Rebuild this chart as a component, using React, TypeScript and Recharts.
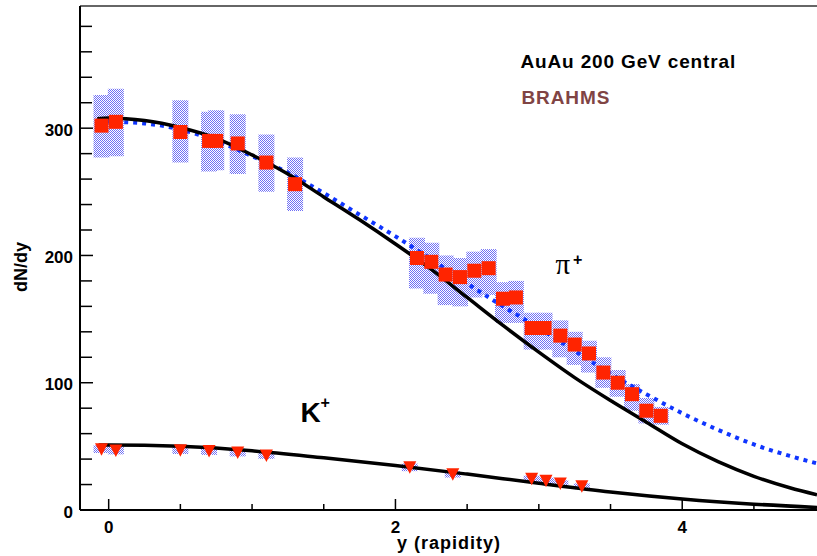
import React from 'react';
import { ComposedChart, Line, Scatter, XAxis, YAxis, ErrorBar, ReferenceLine } from 'recharts';

// ---- pi+ data (BRAHMS) ----
const piRapidity = [-0.05, 0.05, 0.5, 0.7, 0.75, 0.9, 1.1, 1.3, 2.15, 2.25, 2.35, 2.45, 2.55, 2.65, 2.75, 2.84, 2.95, 3.04, 3.15, 3.25, 3.35, 3.45, 3.55, 3.65, 3.75, 3.85];
const piYield = [302, 305, 297, 290, 290, 288, 273, 256, 198, 195, 185, 183, 188, 190, 166, 167, 143, 143, 137, 130, 123, 108, 100, 91, 78, 74];
const piSysLow = [277, 278, 273, 266, 267, 264, 250, 235, 174, 170, 161, 160, 167, 169, 147, 147, 126, 126, 120, 114, 108, 96, 89, 78, 68, 67];
const piSysHigh = [326, 331, 322, 313, 314, 311, 295, 277, 214, 210, 200, 198, 203, 205, 179, 180, 155, 155, 149, 140, 133, 120, 110, 99, 88, 81];

// ---- K+ data ----
const kRapidity = [-0.05, 0.05, 0.5, 0.7, 0.9, 1.1, 2.1, 2.4, 2.95, 3.05, 3.15, 3.3];
const kYield = [47.8, 46.7, 47, 46.3, 45.1, 42.9, 33.5, 28, 24.5, 22.9, 20.8, 18.6];
const kSysLow = [44.8, 43.7, 44, 43.3, 42.1, 40.2, 30.5, 25.5, 22, 20.4, 18.3, 16.3];
const kSysHigh = [50.8, 49.7, 50, 49.3, 48.1, 45.6, 36.5, 30.5, 27, 25.4, 23.3, 20.9];

// ---- model curves ----
const piFitX = [-0.08, 0, 0.25, 0.5, 0.75, 1.0, 1.25, 1.5, 1.75, 2.0, 2.25, 2.5, 2.75, 3.0, 3.25, 3.5, 3.75, 4.0, 4.25, 4.5, 4.75, 4.94];
const piFitSolid = [307.5, 308, 306, 300.5, 292, 279, 264, 246, 228, 209, 189, 167, 145, 124, 104, 86, 69, 52, 38, 26.5, 17.5, 12];
const piFitDotted = [305, 305, 303.7, 299, 290, 278, 265, 249, 232, 215, 197, 178, 160, 143, 125, 107, 91, 76, 63, 51.5, 42.5, 36.6];
const kFitX = [-0.07, 0, 0.5, 1.0, 1.5, 2.0, 2.5, 3.0, 3.5, 4.0, 4.5, 4.94];
const kFitSolid = [51, 51, 50, 46.5, 41, 35, 28.2, 21, 14.2, 8.7, 4.6, 2];

// ---- axes ----
const xDomain = [-0.2, 4.94];
const yDomain = [0, 396];
const xTicks = [0, 0.5, 1, 1.5, 2, 2.5, 3, 3.5, 4, 4.5];
const xLabeled = [0, 2, 4];
const yTicks = [0, 20, 40, 60, 80, 100, 120, 140, 160, 180, 200, 220, 240, 260, 280, 300, 320, 340, 360, 380];
const yLabeled = [0, 100, 200, 300];

const FONT = '"Liberation Sans", Arial, Helvetica, sans-serif';
const RED = '#ff2400';

const piData = piRapidity.map((x, i) => ({ x, y: piYield[i], err: [piYield[i] - piSysLow[i], piSysHigh[i] - piYield[i]] }));
const kData = kRapidity.map((x, i) => ({ x, y: kYield[i], err: [kYield[i] - kSysLow[i], kSysHigh[i] - kYield[i]] }));
const piSolid = piFitX.map((x, i) => ({ x, y: piFitSolid[i] }));
const piDotted = piFitX.map((x, i) => ({ x, y: piFitDotted[i] }));
const kSolid = kFitX.map((x, i) => ({ x, y: kFitSolid[i] }));

const SquareShape = (p: any) => <rect x={p.cx - 7} y={p.cy - 7} width={14} height={14} fill={RED} />;
const TriShape = (p: any) => (
  <polygon points={`${p.cx - 6.5},${p.cy - 6} ${p.cx + 6.5},${p.cy - 6} ${p.cx},${p.cy + 6.5}`} fill={RED} />
);

const YTick = (p: any) => {
  const v = p.payload.value;
  const major = yLabeled.includes(v);
  return (
    <g>
      <line x1={p.x} x2={p.x + (major ? 13 : 12)} y1={p.y} y2={p.y} stroke="#000" strokeWidth={1.5} />
      {major && (
        <text x={p.x - 7} y={p.y + 7.5} textAnchor="end" fontFamily={FONT} fontWeight="bold" fontSize={17} fill="#000">
          {v}
        </text>
      )}
    </g>
  );
};

const XTick = (p: any) => {
  const v = p.payload.value;
  const major = xLabeled.includes(v);
  return (
    <g>
      <line x1={p.x} x2={p.x} y1={p.y} y2={p.y - (major ? 11 : 6)} stroke="#000" strokeWidth={1.5} />
      {major && (
        <text x={p.x} y={p.y + 23} textAnchor="middle" fontFamily={FONT} fontWeight="bold" fontSize={17} fill="#000">
          {v}
        </text>
      )}
    </g>
  );
};

export default function App() {
  return (
    <div style={{ position: 'absolute', left: 0, top: 0, width: 817, height: 556, background: '#fff' }}>
      <svg width={0} height={0} style={{ position: 'absolute' }}>
        <defs>
          <pattern id="sysHatch" patternUnits="userSpaceOnUse" width={2} height={2}>
            <rect x={0} y={0} width={1} height={1} fill="#6f6ff5" />
            <rect x={1} y={1} width={1} height={1} fill="#6f6ff5" />
          </pattern>
        </defs>
      </svg>
      <ComposedChart width={817} height={556} margin={{ top: 6, right: 0, bottom: 0, left: 0 }}>
        <XAxis
          type="number"
          dataKey="x"
          domain={xDomain}
          ticks={xTicks}
          interval={0}
          allowDataOverflow
          height={46}
          tickSize={0}
          tickMargin={0}
          tickLine={false}
          tick={XTick}
          axisLine={{ stroke: '#000', strokeWidth: 2 }}
        />
        <YAxis
          type="number"
          dataKey="y"
          domain={yDomain}
          ticks={yTicks}
          interval={0}
          allowDataOverflow
          width={80}
          tickSize={0}
          tickMargin={0}
          tickLine={false}
          tick={YTick}
          axisLine={{ stroke: '#000', strokeWidth: 2 }}
        />
        <ReferenceLine y={yDomain[1]} stroke="#333" strokeWidth={1.3} />
        <Scatter data={piData} dataKey="y" shape={SquareShape} isAnimationActive={false}>
          <ErrorBar dataKey="err" direction="y" width={0} strokeWidth={16} stroke="url(#sysHatch)" isAnimationActive={false} />
        </Scatter>
        <Scatter data={kData} dataKey="y" shape={TriShape} isAnimationActive={false}>
          <ErrorBar dataKey="err" direction="y" width={0} strokeWidth={16} stroke="url(#sysHatch)" isAnimationActive={false} />
        </Scatter>
        <Line data={piDotted} dataKey="y" type="monotone" stroke="#0f35ff" strokeWidth={4} strokeDasharray="4 5" dot={false} activeDot={false} isAnimationActive={false} />
        <Line data={piSolid} dataKey="y" type="monotone" stroke="#000" strokeWidth={3.5} dot={false} activeDot={false} isAnimationActive={false} />
        <Line data={kSolid} dataKey="y" type="monotone" stroke="#000" strokeWidth={3.5} dot={false} activeDot={false} isAnimationActive={false} />
      </ComposedChart>
      <svg width={817} height={556} style={{ position: 'absolute', left: 0, top: 0, pointerEvents: 'none' }}>
        <text x={520.5} y={68} fontFamily={FONT} fontWeight="bold" fontSize={19} letterSpacing={0.85} fill="#000">AuAu 200 GeV central</text>
        <text x={521.5} y={104} fontFamily={FONT} fontWeight="bold" fontSize={19} letterSpacing={0.9} fill="#804444">BRAHMS</text>
        <text x={555.5} y={273.5} fontFamily='"Liberation Serif", "Times New Roman", serif' fontSize={29} fill="#000">π</text>
        <text x={573} y={264.5} fontFamily={FONT} fontWeight="bold" fontSize={16} fill="#000">+</text>
        <text x={300.5} y={421.5} fontFamily={FONT} fontWeight="bold" fontSize={28} fill="#000">K</text>
        <text x={320.5} y={408} fontFamily={FONT} fontWeight="bold" fontSize={16} fill="#000">+</text>
        <text x={449} y={549} textAnchor="middle" fontFamily={FONT} fontWeight="bold" fontSize={18} letterSpacing={1} fill="#000">y (rapidity)</text>
        <text x={27} y={267} textAnchor="middle" transform="rotate(-90, 27, 267)" fontFamily={FONT} fontWeight="bold" fontSize={18} fill="#000">dN/dy</text>
      </svg>
    </div>
  );
}
